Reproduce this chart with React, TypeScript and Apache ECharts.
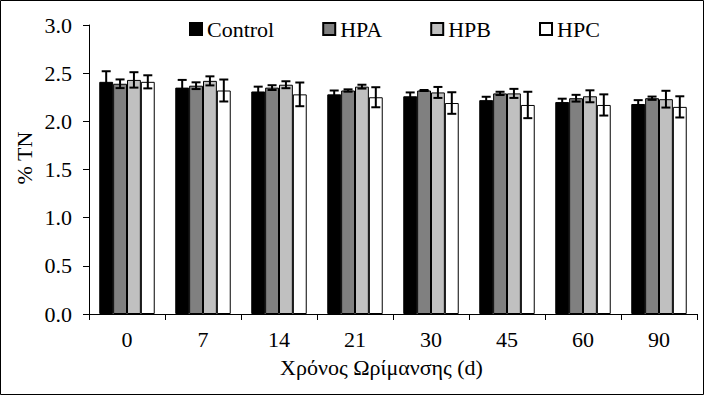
import React, { useEffect, useRef } from "react";
import * as echarts from "echarts";

const categories = ["0", "7", "14", "21", "30", "45", "60", "90"];
const seriesNames = ["Control", "HPA", "HPB", "HPC"];
const controlValues = [2.41, 2.35, 2.31, 2.28, 2.26, 2.22, 2.2, 2.18];
const controlErrors = [0.11, 0.08, 0.05, 0.04, 0.04, 0.035, 0.035, 0.04];
const hpaValues = [2.39, 2.37, 2.35, 2.32, 2.32, 2.29, 2.24, 2.24];
const hpaErrors = [0.045, 0.035, 0.025, 0.012, 0.005, 0.017, 0.035, 0.017];
const hpbValues = [2.43, 2.42, 2.38, 2.36, 2.3, 2.29, 2.26, 2.23];
const hpbErrors = [0.08, 0.047, 0.036, 0.02, 0.057, 0.047, 0.062, 0.087];
const hpcValues = [2.41, 2.32, 2.28, 2.25, 2.19, 2.17, 2.17, 2.15];
const hpcErrors = [0.068, 0.114, 0.123, 0.104, 0.112, 0.137, 0.11, 0.11];
const yTicks = { min: 0, max: 3, interval: 0.5 };
const yAxisTitle = "% TN";
const xAxisTitle = "Χρόνος Ωρίμανσης (d)";

const colors = ["#000000", "#808080", "#c0c0c0", "#ffffff"];
const FONT = "Liberation Serif";
const CAT_GAP = 0.27;

export default function App() {
  const ref = useRef<HTMLDivElement>(null);
  useEffect(() => {
    document.body.style.margin = "0";
    if (!ref.current) return;
    const chart = echarts.init(ref.current, null, { renderer: "svg" });
    const values = [controlValues, hpaValues, hpbValues, hpcValues];
    const errors = [controlErrors, hpaErrors, hpbErrors, hpcErrors];

    const barSeries = seriesNames.map((name, i) => ({
      name,
      type: "bar",
      data: values[i],
      barGap: "0%",
      barCategoryGap: CAT_GAP * 100 + "%",
      itemStyle: { color: colors[i], borderColor: "#000", borderWidth: 1 },
      z: 2,
    }));

    const errSeries = seriesNames.map((name, si) => ({
      name: name + "-err",
      type: "custom",
      z: 5,
      data: values[si].map((v, k) => [k, v, errors[si][k]]),
      encode: { x: 0, y: 1 },
      renderItem: (params: any, api: any) => {
        const idx = api.value(0);
        const v = api.value(1);
        const e = api.value(2);
        const catW = api.size([1, 0])[0];
        const barW = (catW * (1 - CAT_GAP)) / 4;
        const c = api.coord([idx, v]);
        const x = c[0] + (si - 1.5) * barW;
        const top = api.coord([idx, v + e])[1];
        const bot = api.coord([idx, v - e])[1];
        const cap = 4.5;
        const st = { stroke: "#000", lineWidth: 2 };
        return {
          type: "group",
          children: [
            { type: "line", shape: { x1: x, y1: top, x2: x, y2: bot }, style: st },
            { type: "line", shape: { x1: x - cap, y1: top, x2: x + cap, y2: top }, style: st },
            { type: "line", shape: { x1: x - cap, y1: bot, x2: x + cap, y2: bot }, style: st },
          ],
        };
      },
    }));

    chart.setOption({
      animation: false,
      backgroundColor: "#fff",
      textStyle: { fontFamily: FONT, color: "#000" },
      grid: { left: 89, right: 7, top: 25, bottom: 81, containLabel: false },
      legend: {
        data: seriesNames,
        left: 184,
        top: 13,
        itemWidth: 12,
        itemHeight: 12,
        itemGap: 48,
        icon: "rect",
        textStyle: { fontFamily: FONT, fontSize: 22, color: "#000" },
      },
      xAxis: {
        type: "category",
        data: categories,
        axisLine: { show: true, lineStyle: { color: "#000", width: 1 } },
        axisTick: { show: true, length: 6, lineStyle: { color: "#000" } },
        axisLabel: { fontFamily: FONT, fontSize: 22, color: "#000", margin: 14 },
      },
      yAxis: {
        type: "value",
        min: yTicks.min,
        max: yTicks.max,
        interval: yTicks.interval,
        axisLine: { show: true, lineStyle: { color: "#000", width: 1 } },
        axisTick: { show: true, length: 6, lineStyle: { color: "#000" } },
        splitLine: { show: false },
        axisLabel: {
          fontFamily: FONT,
          fontSize: 22,
          color: "#000",
          margin: 17,
          formatter: (v: number) => v.toFixed(1),
        },
      },
      graphic: [
        {
          type: "rect",
          shape: { x: 0.5, y: 0.5, width: 703, height: 394 },
          style: { fill: "none", stroke: "#000", lineWidth: 1 },
          silent: true,
        },
        {
          type: "text",
          x: 24.5,
          y: 158,
          rotation: Math.PI / 2,
          style: {
            text: yAxisTitle,
            fontFamily: FONT,
            fontSize: 22,
            fill: "#000",
            align: "center",
            verticalAlign: "middle",
          },
        },
        {
          type: "text",
          x: 381.5,
          y: 367,
          style: {
            text: xAxisTitle,
            fontFamily: FONT,
            fontSize: 22,
            fill: "#000",
            align: "center",
            verticalAlign: "middle",
          },
        },
      ],
      series: [...barSeries, ...errSeries],
    });
    return () => chart.dispose();
  }, []);
  return <div ref={ref} style={{ width: 704, height: 395 }} />;
}
